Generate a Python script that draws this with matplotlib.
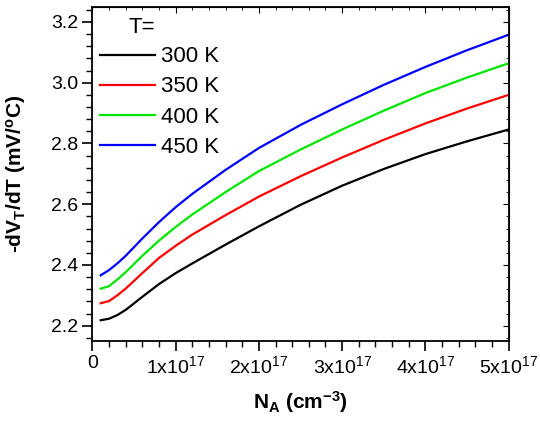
import matplotlib
matplotlib.use("Agg")
import matplotlib.pyplot as plt
from matplotlib.ticker import MultipleLocator

plt.rcParams['font.family'] = ['Liberation Sans', 'DejaVu Sans']
plt.rcParams['mathtext.fontset'] = 'custom'
plt.rcParams['mathtext.rm'] = 'Liberation Sans'
plt.rcParams['mathtext.bf'] = 'Liberation Sans:bold'
plt.rcParams['mathtext.default'] = 'regular'

# acceptor concentration in units of 1e17 cm^-3
na = [0.1, 0.2, 0.3, 0.4, 0.6, 0.8, 1.0, 1.2, 1.6, 2.0, 2.5, 3.0, 3.5, 4.0, 4.5, 5.0]
t300 = [2.218, 2.223, 2.235, 2.252, 2.295, 2.337, 2.373, 2.405, 2.467, 2.527, 2.598, 2.661, 2.716, 2.765, 2.807, 2.846]
t350 = [2.274, 2.281, 2.300, 2.322, 2.373, 2.423, 2.463, 2.500, 2.564, 2.625, 2.692, 2.754, 2.812, 2.866, 2.915, 2.960]
t400 = [2.322, 2.330, 2.352, 2.376, 2.430, 2.480, 2.525, 2.566, 2.640, 2.709, 2.780, 2.846, 2.908, 2.966, 3.017, 3.064]
t450 = [2.366, 2.383, 2.405, 2.430, 2.487, 2.541, 2.590, 2.634, 2.713, 2.785, 2.861, 2.929, 2.993, 3.052, 3.107, 3.158]
series = [t300, t350, t400, t450]
labels = ['300 K', '350 K', '400 K', '450 K']
colors = ['black', '#ff0000', '#00e600', '#0000ff']

xticks = [0, 1, 2, 3, 4, 5]
xticklabels = ['0', '1x10$^{17}$', '2x10$^{17}$', '3x10$^{17}$', '4x10$^{17}$', '5x10$^{17}$']
yticks = [2.2, 2.4, 2.6, 2.8, 3.0, 3.2]

fig = plt.figure(figsize=(5.4, 4.24), dpi=100)
ax = fig.add_axes([0.171, 0.196, 0.771, 0.788])

x = [v * 1e17 for v in na]
for ys, lab, c in zip(series, labels, colors):
    ax.plot(x, ys, color=c, lw=1.6, label=lab)

ax.set_xlim(0, 5e17)
ax.set_ylim(2.15, 3.25)
ax.set_xticks([v * 1e17 for v in xticks])
ax.set_xticklabels(xticklabels)
ax.xaxis.set_minor_locator(MultipleLocator(0.2e17))
ax.set_yticks(yticks)
ax.set_yticklabels(['%.1f' % v for v in yticks])
ax.yaxis.set_minor_locator(MultipleLocator(0.04))
ax.tick_params(which='major', direction='out', length=7, width=1.2, labelsize=14, pad=3)
ax.tick_params(which='minor', direction='out', length=4, width=1.0)
for s in ax.spines.values():
    s.set_linewidth(1.3)

# inward ticks on top and right
top = ax.secondary_xaxis('top')
top.set_xticks([v * 1e17 for v in xticks])
top.xaxis.set_minor_locator(MultipleLocator(0.2e17))
top.tick_params(which='both', direction='in', labeltop=False)
top.tick_params(which='major', length=4)
top.tick_params(which='minor', length=2.5)
right = ax.secondary_yaxis('right')
right.set_yticks(yticks)
right.yaxis.set_minor_locator(MultipleLocator(0.04))
right.tick_params(which='both', direction='in', labelright=False)
right.tick_params(which='major', length=4)
right.tick_params(which='minor', length=2.5)

ax.set_xlabel('N$_\\mathbf{A}$ (cm$^\\mathbf{-3}$)', fontsize=15, fontweight='bold', labelpad=9)
ax.set_ylabel('-dV$_\\mathbf{T}$/dT (mV/$^\\mathbf{o}$C)', fontsize=15, fontweight='bold', labelpad=17)

ax.text(0.086, 0.937, 'T=', transform=ax.transAxes, fontsize=16, va='center', ha='left')
ax.legend(loc='upper left', bbox_to_anchor=(0.008, 0.895), frameon=False, fontsize=16,
          handlelength=2.45, handletextpad=0.3, labelspacing=0.41, borderaxespad=0.0,
          borderpad=0.2)

fig.savefig('out.png', dpi=100)
